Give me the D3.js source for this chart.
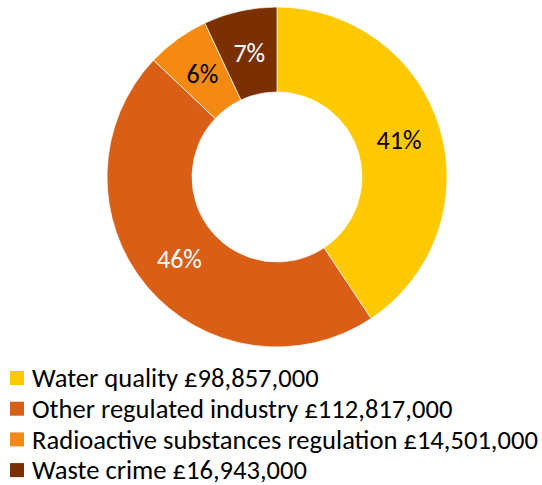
<!DOCTYPE html>
<html>
<head>
<meta charset="utf-8">
<script src="https://cdn.jsdelivr.net/npm/d3@7"></script>
<style>
  body { margin: 0; background: #fff; }
</style>
</head>
<body>
<div id="chart"></div>
<script>
const categories = ["Water quality", "Other regulated industry", "Radioactive substances regulation", "Waste crime"];
const amounts = [98857000, 112817000, 14501000, 16943000];
const colors = ["#FFC900", "#D95F16", "#F58A13", "#7A3003"];
const labelColors = ["#000", "#fff", "#000", "#fff"];

const width = 542, height = 485;
const cx = 277, cy = 177, outerR = 170, innerR = 85;
const font = "Carlito, Calibri, 'Liberation Sans', sans-serif";

const svg = d3.select("#chart").append("svg")
    .attr("width", width)
    .attr("height", height);

const data = categories.map((c, i) => ({ name: c, value: amounts[i], i: i }));
const total = d3.sum(amounts);

const pie = d3.pie().value(d => d.value).sort(null);
const arc = d3.arc().innerRadius(innerR).outerRadius(outerR);

const g = svg.append("g").attr("transform", "translate(" + cx + "," + cy + ")");

g.selectAll("path")
    .data(pie(data))
    .join("path")
    .attr("d", arc)
    .attr("fill", d => colors[d.data.i])
    .attr("stroke", "#fff")
    .attr("stroke-width", 0.7);

const fmtPct = d => Math.round(d.data.value / total * 100) + "%";

g.selectAll("text")
    .data(pie(data))
    .join("text")
    .attr("transform", d => "translate(" + arc.centroid(d) + ")")
    .attr("text-anchor", "middle")
    .attr("dy", "0.35em")
    .style("font-family", font)
    .style("font-size", "26px")
    .attr("fill", d => labelColors[d.data.i])
    .text(fmtPct);

// legend
const fmt = d3.format(",");
const legend = svg.append("g");
const rows = legend.selectAll("g")
    .data(data)
    .join("g")
    .attr("transform", (d, i) => "translate(10," + (378 + i * 30.7) + ")");

rows.append("rect")
    .attr("x", 0)
    .attr("y", -7)
    .attr("width", 14)
    .attr("height", 14)
    .attr("fill", d => colors[d.i]);

rows.append("text")
    .attr("x", 22)
    .attr("dy", "0.35em")
    .style("font-family", font)
    .style("font-size", "20px")
    .attr("fill", "#000")
    .text(d => d.name + " £" + fmt(d.value));

// fit the longest legend row to the reference width (text ends near x=538)
const longest = rows.select("text").nodes()[2];
const w = longest.getComputedTextLength();
const scale = (538 - 32) / w;
rows.select("text").style("font-size", (20 * scale).toFixed(2) + "px");
</script>
</body>
</html>
